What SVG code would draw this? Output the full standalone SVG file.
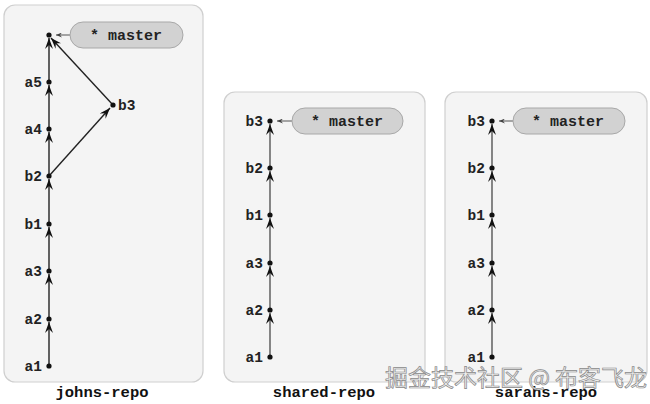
<svg xmlns="http://www.w3.org/2000/svg" width="650" height="404" viewBox="0 0 650 404">
<style>
.panel{fill:#f4f4f4;stroke:#cfcfcf;stroke-width:1.2}
.lbl{font-family:"Liberation Mono",monospace;font-weight:bold;font-size:14.5px;fill:#222}
.repo{font-family:"Liberation Mono",monospace;font-weight:bold;font-size:15.5px;fill:#111;text-anchor:middle}
.pill{fill:#d2d2d2;stroke:#a8a8a8;stroke-width:1}
.ptxt{font-family:"Liberation Mono",monospace;font-weight:bold;font-size:15px;fill:#222;text-anchor:middle}
.dot{fill:#111}
.e{stroke:#222;stroke-width:1.4;fill:none;marker-end:url(#ah)}
.e2{stroke:#555;stroke-width:1.4;fill:none;marker-end:url(#ah)}
.p{stroke:#555;stroke-width:1;fill:none;marker-end:url(#sm)}
.wm{font-family:"Noto Sans CJK SC",sans-serif;font-size:23px;fill:#eee;stroke:#888;stroke-width:0.7}
</style>
<defs>
<marker id="ah" markerUnits="userSpaceOnUse" markerWidth="12" markerHeight="8" refX="11" refY="4" orient="auto">
<path d="M0,0 L11,4 L0,8 L4,4 z" fill="#111"/>
</marker>
<marker id="sm" markerUnits="userSpaceOnUse" markerWidth="7" markerHeight="5" refX="6" refY="2.5" orient="auto">
<path d="M0,0 L6,2.5 L0,5 L2,2.5 z" fill="#444"/>
</marker>
</defs>

<g id="johns-repo">
<rect class="panel" x="4" y="5" width="199" height="377" rx="11"/>
<text class="repo" x="102" y="397">johns-repo</text>
</g>
<g id="shared-repo">
<rect class="panel" x="224" y="92" width="201" height="290" rx="11"/>
<text class="repo" x="324" y="397">shared-repo</text>
</g>
<g id="sarahs-repo">
<rect class="panel" x="445" y="92" width="202" height="290" rx="11"/>
<text class="repo" x="546" y="397">sarahs-repo</text>
</g>

<g id="connectors">
<line class="e" x1="49" y1="366" x2="49" y2="322"/>
<line class="e" x1="49" y1="319" x2="49" y2="274"/>
<line class="e" x1="49" y1="271" x2="49" y2="227"/>
<line class="e" x1="49" y1="224" x2="49" y2="179"/>
<line class="e" x1="49" y1="176" x2="49" y2="132"/>
<line class="e" x1="49" y1="129" x2="49" y2="85"/>
<line class="e" x1="49" y1="82" x2="49" y2="38"/>
<line class="e" x1="49" y1="176" x2="110" y2="108"/>
<line class="e" x1="113" y1="105" x2="51" y2="38"/>
<line class="p" x1="70" y1="35" x2="56" y2="35"/>

<line class="e2" x1="270" y1="357" x2="270" y2="313"/>
<line class="e2" x1="270" y1="310" x2="270" y2="266"/>
<line class="e2" x1="270" y1="263" x2="270" y2="218"/>
<line class="e2" x1="270" y1="215" x2="270" y2="171"/>
<line class="e2" x1="270" y1="168" x2="270" y2="124"/>
<line class="p" x1="292" y1="121" x2="277" y2="121"/>

<line class="e2" x1="492" y1="357" x2="492" y2="313"/>
<line class="e2" x1="492" y1="310" x2="492" y2="266"/>
<line class="e2" x1="492" y1="263" x2="492" y2="218"/>
<line class="e2" x1="492" y1="215" x2="492" y2="171"/>
<line class="e2" x1="492" y1="168" x2="492" y2="124"/>
<line class="p" x1="513" y1="121" x2="499" y2="121"/>
</g>

<g id="john-commits">
<circle class="dot" cx="49" cy="35" r="2.6"/>
<circle class="dot" cx="49" cy="82" r="2.6"/><text class="lbl" x="42" y="87" text-anchor="end">a5</text>
<circle class="dot" cx="49" cy="129" r="2.6"/><text class="lbl" x="42" y="134" text-anchor="end">a4</text>
<circle class="dot" cx="49" cy="176" r="2.6"/><text class="lbl" x="42" y="181" text-anchor="end">b2</text>
<circle class="dot" cx="49" cy="224" r="2.6"/><text class="lbl" x="42" y="229" text-anchor="end">b1</text>
<circle class="dot" cx="49" cy="271" r="2.6"/><text class="lbl" x="42" y="276" text-anchor="end">a3</text>
<circle class="dot" cx="49" cy="319" r="2.6"/><text class="lbl" x="42" y="324" text-anchor="end">a2</text>
<circle class="dot" cx="49" cy="366" r="2.6"/><text class="lbl" x="42" y="371" text-anchor="end">a1</text>
<circle class="dot" cx="113" cy="105" r="2.6"/><text class="lbl" x="118" y="110">b3</text>
</g>
<g id="john-master">
<rect class="pill" x="70" y="22" width="113" height="26" rx="13"/>
<text class="ptxt" x="126" y="40">* master</text>
</g>

<g id="shared-commits">
<circle class="dot" cx="270" cy="121" r="2.6"/><text class="lbl" x="263" y="126" text-anchor="end">b3</text>
<circle class="dot" cx="270" cy="168" r="2.6"/><text class="lbl" x="263" y="173" text-anchor="end">b2</text>
<circle class="dot" cx="270" cy="215" r="2.6"/><text class="lbl" x="263" y="220" text-anchor="end">b1</text>
<circle class="dot" cx="270" cy="263" r="2.6"/><text class="lbl" x="263" y="268" text-anchor="end">a3</text>
<circle class="dot" cx="270" cy="310" r="2.6"/><text class="lbl" x="263" y="315" text-anchor="end">a2</text>
<circle class="dot" cx="270" cy="357" r="2.6"/><text class="lbl" x="263" y="362" text-anchor="end">a1</text>
</g>
<g id="shared-master">
<rect class="pill" x="292" y="108" width="111" height="26" rx="13"/>
<text class="ptxt" x="347" y="126">* master</text>
</g>

<g id="sarah-commits">
<circle class="dot" cx="492" cy="121" r="2.6"/><text class="lbl" x="485" y="126" text-anchor="end">b3</text>
<circle class="dot" cx="492" cy="168" r="2.6"/><text class="lbl" x="485" y="173" text-anchor="end">b2</text>
<circle class="dot" cx="492" cy="215" r="2.6"/><text class="lbl" x="485" y="220" text-anchor="end">b1</text>
<circle class="dot" cx="492" cy="263" r="2.6"/><text class="lbl" x="485" y="268" text-anchor="end">a3</text>
<circle class="dot" cx="492" cy="310" r="2.6"/><text class="lbl" x="485" y="315" text-anchor="end">a2</text>
<circle class="dot" cx="492" cy="357" r="2.6"/><text class="lbl" x="485" y="362" text-anchor="end">a1</text>
</g>
<g id="sarah-master">
<rect class="pill" x="513" y="108" width="112" height="26" rx="13"/>
<text class="ptxt" x="568" y="126">* master</text>
</g>

<text class="wm" x="385" y="386">掘金技术社区 @ 布客飞龙</text>
</svg>
